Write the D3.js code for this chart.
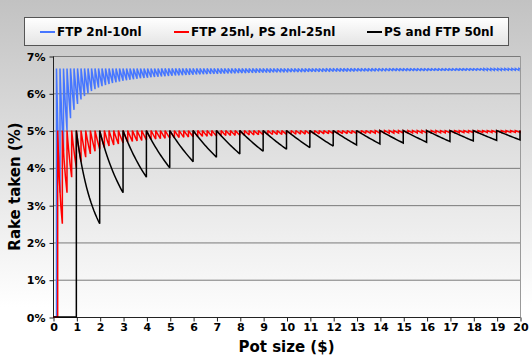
<!DOCTYPE html>
<html><head><meta charset="utf-8">
<script src="https://cdn.jsdelivr.net/npm/d3@7"></script>
<style>
html,body{margin:0;padding:0;background:#fff;}
svg{display:block;}
text{font-family:"DejaVu Sans",Verdana,sans-serif;font-weight:bold;fill:#000;}
</style></head>
<body>
<svg id="chart" width="532" height="361"></svg>
<script>
// ---- data ----
const seriesNames = ["FTP 2nl-10nl", "FTP 25nl, PS 2nl-25nl", "PS and FTP 50nl"];
const seriesColors = ["#4676ff", "#ff0000", "#000000"];
// rake structure read from the sawtooth: tooth width ($ of pot) and rake per tooth ($)
const potStep = [0.15, 0.20, 1.00];
const rakePerStep = [0.01, 0.01, 0.05];
const xTicks = d3.range(0, 21, 1);
const yTicks = [0, 1, 2, 3, 4, 5, 6, 7];
const xMax = 20, yMax = 7;

// ---- layout ----
const W = 532, H = 361;
const L = 53, R = 520, T = 56, B = 317;
const svg = d3.select("#chart");
const defs = svg.append("defs");

const bgGrad = defs.append("linearGradient").attr("id","bg").attr("x1",0).attr("y1",0).attr("x2",0).attr("y2",1);
bgGrad.append("stop").attr("offset","0%").attr("stop-color","#c2c2c2");
bgGrad.append("stop").attr("offset","85%").attr("stop-color","#ffffff");
bgGrad.append("stop").attr("offset","100%").attr("stop-color","#ffffff");
const plotGrad = defs.append("linearGradient").attr("id","pg").attr("x1",0).attr("y1",0).attr("x2",0).attr("y2",1);
plotGrad.append("stop").attr("offset","0%").attr("stop-color","#cfcfcf");
plotGrad.append("stop").attr("offset","100%").attr("stop-color","#fdfdfd");
const legGrad = defs.append("linearGradient").attr("id","lg").attr("x1",0).attr("y1",0).attr("x2",0).attr("y2",1);
legGrad.append("stop").attr("offset","0%").attr("stop-color","#ffffff");
legGrad.append("stop").attr("offset","100%").attr("stop-color","#e4e4e4");
defs.append("clipPath").attr("id","clip").append("rect")
  .attr("x", L - 1).attr("y", T - 2).attr("width", R - L + 2).attr("height", B - T + 3);

svg.append("rect").attr("width", W).attr("height", H).attr("fill", "url(#bg)");

const x = d3.scaleLinear().domain([0, xMax]).range([L, R]);
const y = d3.scaleLinear().domain([0, yMax]).range([B, T]);

svg.append("rect").attr("x", L).attr("y", T).attr("width", R - L).attr("height", B - T)
  .attr("fill", "url(#pg)");

// gridlines
svg.append("g").selectAll("line").data(yTicks.filter(d => d > 0)).join("line")
  .attr("x1", L).attr("x2", R).attr("y1", d => y(d) + 0.5).attr("y2", d => y(d) + 0.5)
  .attr("stroke", "#7a7a7a").attr("stroke-width", 1);
// right border
svg.append("line").attr("x1", R + 0.5).attr("x2", R + 0.5).attr("y1", T).attr("y2", B)
  .attr("stroke", "#9a9a9a");

// axes
const yAxis = d3.axisLeft(y).tickValues(yTicks).tickFormat(d => d + "%").tickSize(4).tickPadding(4);
const gy = svg.append("g").attr("transform", `translate(${L + 0.5},0.5)`).call(yAxis);
const xAxis = d3.axisBottom(x).tickValues(xTicks).tickFormat(d3.format("d")).tickSize(4).tickPadding(2);
const gx = svg.append("g").attr("transform", `translate(0.5,${B + 0.5})`).call(xAxis);
[gy, gx].forEach(g => {
  g.select(".domain").attr("stroke", "#222");
  g.selectAll(".tick line").attr("stroke", "#222");
  g.selectAll("text").style("font-size", "11px").style("font-family", "'DejaVu Sans',Verdana,sans-serif")
    .style("font-weight", "bold").attr("fill", "#111");
});
gy.select(".domain").attr("d", `M0,${T}V${B}`);
gx.select(".domain").attr("d", `M${L},0H${R}`);

// series
function buildSeries(step, unit) {
  const pts = [[0, 0]];
  const n = Math.floor(xMax / step + 1e-9);
  for (let k = 1; k <= n; k++) {
    const x0 = k * step;
    const x1 = Math.min((k + 1) * step, xMax);
    pts.push([x0, (k - 1) * unit / x0 * 100]);
    pts.push([x0, k * unit / x0 * 100]);
    if (x1 > x0 + 1e-9) {
      const s = Math.max(2, Math.round((x(x1) - x(x0)) / 1.5));
      for (let j = 1; j <= s; j++) {
        const p = x0 + (x1 - x0) * j / s;
        pts.push([p, k * unit / p * 100]);
      }
    }
  }
  return pts;
}
const line = d3.line().x(d => x(d[0])).y(d => y(d[1]));
const gs = svg.append("g").attr("clip-path", "url(#clip)");
seriesNames.forEach((name, i) => {
  gs.append("path").datum(buildSeries(potStep[i], rakePerStep[i]))
    .attr("d", line).attr("fill", "none").attr("stroke", seriesColors[i])
    .attr("stroke-width", 1.5).attr("stroke-linejoin", "miter").attr("stroke-miterlimit", 2);
});

// axis titles
svg.append("text").attr("x", (L + R) / 2).attr("y", 352).attr("text-anchor", "middle")
  .style("font-size", "15px").text("Pot size ($)");
svg.append("text").attr("transform", `translate(20,${(T + B) / 2}) rotate(-90)`)
  .attr("text-anchor", "middle").style("font-size", "15px").text("Rake taken (%)");

// legend
svg.append("rect").attr("x", 24.5).attr("y", 17.5).attr("width", 484).attr("height", 28)
  .attr("fill", "url(#lg)").attr("stroke", "#555").attr("stroke-width", 1);
const legX = [40, 174, 367];
seriesNames.forEach((name, i) => {
  svg.append("line").attr("x1", legX[i]).attr("x2", legX[i] + 15).attr("y1", 32).attr("y2", 32)
    .attr("stroke", seriesColors[i]).attr("stroke-width", 2);
  svg.append("text").attr("x", legX[i] + 17).attr("y", 36).style("font-size", "12px").text(name);
});
</script>
</body></html>
